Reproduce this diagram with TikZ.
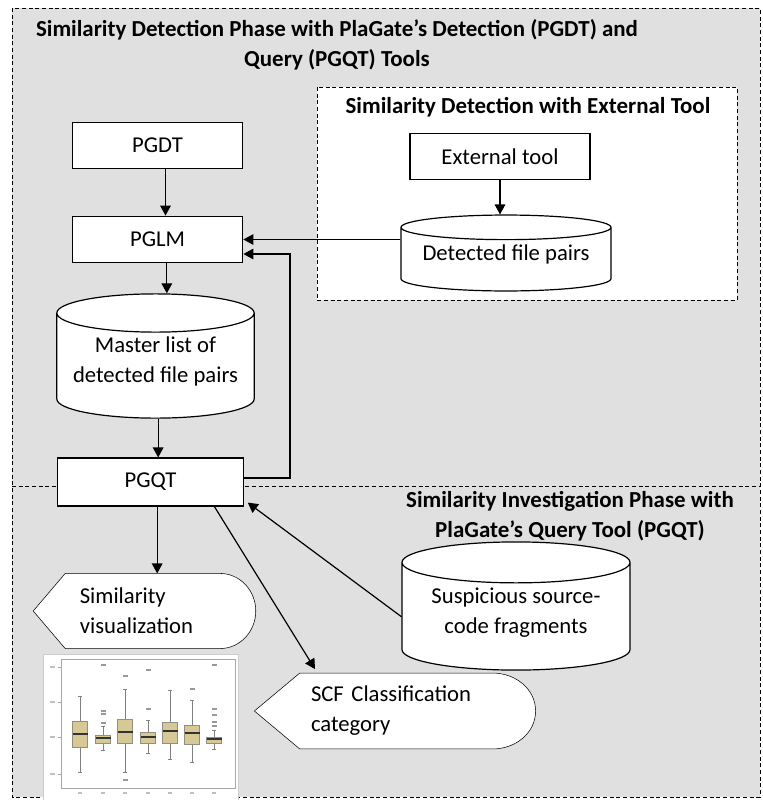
\documentclass[tikz,border=0pt]{standalone}
\usepackage{fontspec}
\setmainfont{Carlito}
\usepackage{tikz}
\usetikzlibrary{arrows.meta,backgrounds,shapes.geometric}
\definecolor{phasegray}{RGB}{224,224,224}
\definecolor{boxtan}{RGB}{214,201,150}

\begin{document}
\begin{tikzpicture}[x=0.75pt,y=-0.75pt,line width=0.9pt,
  every node/.style={font=\fontsize{17}{22.5}\selectfont},
  phase/.style={dash pattern=on 3pt off 2pt,line width=0.7pt},
  headline/.style={font=\bfseries\fontsize{17.2}{22.5}\selectfont,align=center},
  procbox/.style={draw,fill=white,minimum width=128pt,minimum height=35pt},
  store/.style={cylinder,shape border rotate=90,draw,fill=white,align=center,anchor=shape center,text depth=13pt},
  display/.style={inner sep=0pt,align=left},
  flow/.style={-{Triangle[length=7.5pt,width=8pt]}}]
\useasboundingbox (0,0) rectangle (763,800);
\begin{scope}[on background layer]
\draw[phase,fill=phasegray] (12,8) rectangle (760,797);
\draw[phase,fill=white] (317,87) rectangle (737,300);
\draw[phase] (12,486) -- (760,486);
\end{scope}

\node[headline] (title) at (337,45) {Similarity Detection Phase with PlaGate’s Detection (PGDT) and\\Query (PGQT) Tools};
\node[headline] (exttitle) at (528,107) {Similarity Detection with External Tool};
\node[procbox] (pgdt) at (157.5,145.5) {PGDT};
\node[procbox] (pglm) at (157.5,239.5) {PGLM};
\node[procbox,minimum width=135pt] (ext) at (500,156.5) {External tool};
\node[store,minimum width=157.5pt,minimum height=54pt,aspect=0.14] (pairs) at (506,253) {Detected file pairs};
\node[store,minimum width=148pt,minimum height=88.5pt,aspect=0.22] (master) at (155.5,356) {Master list of\\detected file pairs};
\node[procbox,minimum width=139pt,minimum height=36pt] (pgqt) at (150.5,482) {PGQT};
\node[headline] (invtitle) at (570,516) {Similarity Investigation Phase with\\PlaGate’s Query Tool (PGQT)};
\node[store,minimum width=171pt,minimum height=93pt,aspect=0.23] (susp) at (516,606) {Suspicious source-\\code fragments};
\node[display,minimum width=166pt,minimum height=55.5pt,text width=97pt] (vis) at (144.5,611) {Similarity\\visualization};
\node[display,minimum width=210pt,minimum height=56pt,text width=126pt] (scf) at (395,711) {SCF Classification\\category};
\coordinate (back) at (290,254);

\draw[flow] ([xshift=6pt]pgdt.south) -- ([xshift=6pt]pglm.north);
\draw[flow] ([xshift=7pt]pglm.south) -- ([xshift=7pt]pglm.south |- master.north);
\draw[flow] ([xshift=2pt]master.south) -- ([xshift=2pt]master.south |- pgqt.north);
\draw[flow] (ext.south) -- (ext.south |- pairs.north);
\draw[flow] (pglm.east -| pairs.west) -- (pglm.east);
\draw[flow] ([yshift=3pt]pgqt.east) -| (back) -- (back -| pglm.east);
\draw[flow] ([xshift=5pt]pgqt.south) -- ([xshift=5pt]pgqt.south |- vis.north);
\draw[flow] ([xshift=-22pt]pgqt.south east) -- ([xshift=-60pt,yshift=3pt]scf.north);
\draw[flow] ([yshift=2pt]susp.west) -- ([xshift=3pt,yshift=3pt]pgqt.south east);

\begin{scope}[on background layer]
\draw[fill=white] (vis.west) -- ([xshift=24pt]vis.north west) -- ([xshift=-27pt]vis.north east) to[out=0,in=90] (vis.east)
  to[out=-90,in=0] ([xshift=-27pt]vis.south east) -- ([xshift=24pt]vis.south west) -- cycle;
\draw[fill=white] (scf.west) -- ([xshift=34pt]scf.north west) -- ([xshift=-32pt]scf.north east) to[out=0,in=90] (scf.east)
  to[out=-90,in=0] ([xshift=-32pt]scf.south east) -- ([xshift=34pt]scf.south west) -- cycle;
\end{scope}

% box plot picture
\draw[fill=white,draw=gray!40,line width=0.6pt] (43,654) rectangle (238,800);
\draw[gray!70,line width=0.5pt] (61,659) rectangle (235,788);
\foreach \ty in {667,702,737,774}{
  \draw[gray!70,line width=0.5pt] (58,\ty) -- (61,\ty);
  \draw[gray!50,line width=0.8pt] (50,\ty) -- (55,\ty);
}
\foreach \bx/\wl/\wh/\ql/\qh/\md in {80/696/772/721/747/734,103/726/750/735/743/738,125/689/772/719/743/732,
  148/720/753/732/743/737,170/690/759/722/743/731,192/700/762/725/744/733,214/730/749/737/743/739}{
  \draw[gray,line width=0.6pt] (\bx,\wl) -- (\bx,\wh) (\bx-2,\wl) -- (\bx+2,\wl) (\bx-2,\wh) -- (\bx+2,\wh);
  \draw[fill=boxtan,draw=gray!80!boxtan,line width=0.5pt] (\bx-7.5,\ql) rectangle (\bx+7.5,\qh);
  \draw[black!80,line width=1.6pt] (\bx-7.5,\md) -- (\bx+7.5,\md);
  \draw[gray!50,line width=0.8pt] (\bx-2,793) -- (\bx+2,793);
}
\foreach \ox/\oy in {103/665,103/711,103/714,103/723,125/676,125/780,148/670,148/709,192/689,
  214/665,214/709,214/715,214/722,214/726}{
  \fill[gray!80] (\ox-2,\oy-1) rectangle (\ox+3,\oy+1);
}
\end{tikzpicture}
\end{document}
